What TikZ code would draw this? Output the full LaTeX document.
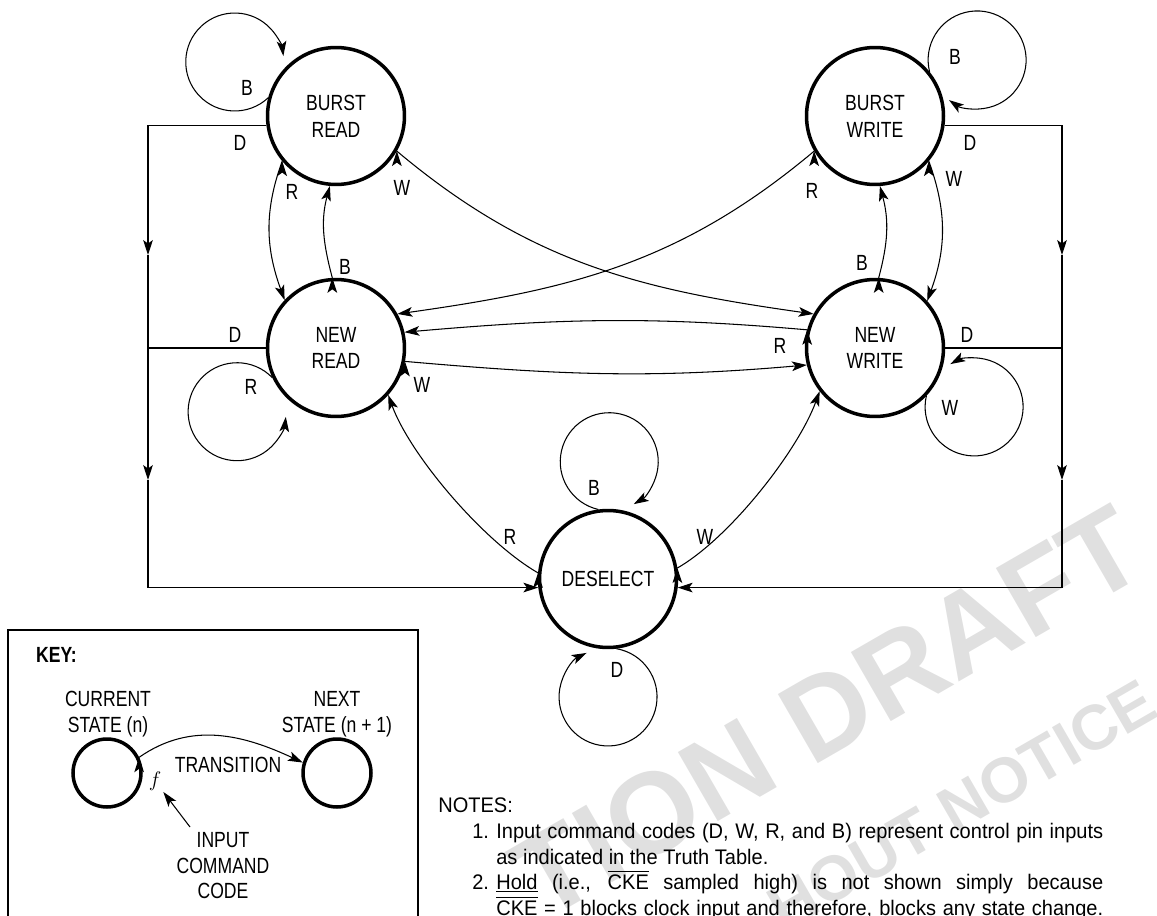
\documentclass[tikz,border=0pt]{standalone}
\usepackage{fontspec}
\setmainfont{Liberation Sans}
\newfontfamily\narrowfont{Liberation Sans}[FakeStretch=0.8]
\newfontfamily\notefont{Liberation Sans}[FakeStretch=0.95]
\usetikzlibrary{arrows.meta}
\begin{document}
\begin{tikzpicture}[x=0.02cm, y=0.02cm,
  state/.style={shape=circle, draw=black, line width=2pt, minimum size=2.74cm, inner sep=0pt, align=center, font=\narrowfont\fontsize{12.5}{15.2}\selectfont},
  keystate/.style={shape=circle, draw=black, line width=2pt, minimum size=1.36cm},
  lbl/.style={font=\narrowfont\fontsize{12.5}{14.5}\selectfont, inner sep=1pt, align=center},
  trans/.style={-{Stealth[length=8.5pt,width=5.5pt,inset=2pt]}, line width=0.6pt, draw=black},
  bus/.style={line width=0.6pt, draw=black},
  note/.style={font=\notefont\fontsize{12}{14.6}\selectfont, anchor=base west, inner sep=0pt},
  wmark/.style={text=black!12, rotate=30, inner sep=0pt}]
\useasboundingbox (0,0) rectangle (1157,-916);
\node[wmark, font=\bfseries\fontsize{66}{66}\selectfont] (wm1) at (828,-712) {TION DRAFT};
\node[wmark, font=\bfseries\fontsize{36}{36}\selectfont] (wm2) at (962,-805) {HOUT NOTICE};
\node[state] (BR) at (336,-116) {BURST\\READ};
\node[state] (BW) at (875,-116) {BURST\\WRITE};
\node[state] (NR) at (336,-348) {NEW\\READ};
\node[state] (NW) at (875,-348) {NEW\\WRITE};
\node[state] (DS) at (608,-579) {DESELECT};
\draw[trans] (BR.165) arc[start angle=-47, end angle=-353, radius=0.98cm];
\draw[trans] (BW.39) arc[start angle=194, end angle=-125, radius=0.98cm];
\draw[trans] (NR.205) arc[start angle=44, end angle=354, radius=0.98cm];
\draw[trans] (NW.-43) arc[start angle=167, end angle=479, radius=0.98cm];
\draw[trans] (DS.98) arc[start angle=-103, end angle=-420, radius=0.98cm];
\draw[trans] (DS.-83) arc[start angle=80, end angle=-244, radius=0.98cm];
\path[trans] (BR.-140) edge[out=250, in=110] (NR.137);
\path[trans] (NR.93) edge[out=105, in=255] (BR.-95);
\path[trans] (BW.-40) edge[out=290, in=70] (NW.42);
\path[trans] (NW.87) edge[out=75, in=285] (BW.-86);
\path[trans] (BR.-30) edge[out=-40, in=172] (NW.151);
\path[trans] (BW.-150) edge[out=220, in=8] (NR.29);
\path[trans] (NW.165) edge[out=175, in=5] (NR.13);
\path[trans] (NR.-11) edge[out=-5, in=185] (NW.-166);
\path[trans] (DS.175) edge[out=150, in=290, looseness=0.7] (NR.-42);
\path[trans] (DS.9) edge[out=30, in=250, looseness=0.7] (NW.-142);
\coordinate (LA) at (148,-255);
\coordinate (LC) at (148,-480);
\coordinate (RA) at (1062,-255);
\coordinate (RC) at (1062,-480);
\draw[trans] (BR.188) -| (LA);
\draw[trans] (LA) -- (LC);
\draw[trans] (LC) |- (DS.187);
\draw[bus] (NR.180) -- (NR.180 -| LA);
\draw[trans] (BW.-8) -| (RA);
\draw[trans] (RA) -- (RC);
\draw[trans] (RC) |- (DS.-7);
\draw[bus] (NW.0) -- (NW.0 -| RA);
\node[lbl] (bBR) at (247,-88) {B};
\node[lbl] (dBR) at (240,-143) {D};
\node[lbl] (rBR) at (292,-192) {R};
\node[lbl] (wBR) at (402,-188) {W};
\node[lbl] (bNR) at (345,-267) {B};
\node[lbl] (dNR) at (235,-335) {D};
\node[lbl] (rNR) at (251,-387) {R};
\node[lbl] (wNR) at (422,-385) {W};
\node[lbl] (bBW) at (955,-57) {B};
\node[lbl] (dBW) at (970,-143) {D};
\node[lbl] (rBW) at (812,-191) {R};
\node[lbl] (wBW) at (954,-179) {W};
\node[lbl] (bNW) at (862,-263) {B};
\node[lbl] (dNW) at (967,-335) {D};
\node[lbl] (rNW) at (780,-346) {R};
\node[lbl] (wNW) at (950,-408) {W};
\node[lbl] (bDS) at (594,-488) {B};
\node[lbl] (rDS) at (510,-537) {R};
\node[lbl] (wDS) at (705,-537) {W};
\node[lbl] (dDS) at (617,-670) {D};
\draw[line width=1.2pt] (8,-916) |- (418,-630) -- (418,-916);
\node[lbl, anchor=base west, font=\narrowfont\bfseries\fontsize{12.5}{14.5}\selectfont] (key) at (34,-662) {KEY:};
\node[keystate] (CS) at (107,-773) {};
\node[keystate] (NS) at (337,-773) {};
\node[lbl] (cstxt) at (108,-714) {CURRENT\\STATE (n)};
\node[lbl] (nstxt) at (337,-714) {NEXT\\STATE (n + 1)};
\node[lbl] (trtxt) at (228,-765) {TRANSITION};
\node[inner sep=1pt, font=\fontsize{12}{14}\selectfont] (fsym) at (155,-781) {$f$};
\node[lbl] (incode) at (223,-866) {INPUT\\COMMAND\\CODE};
\coordinate (ftail) at (190,-827);
\path[trans] (CS.26) edge[out=35, in=155] (NS.163);
\draw[trans] (ftail) -- (fsym);
\node[note] (notes) at (438,-812) {NOTES:};
\node[note] (n1) at (472,-838) {1.};
\node[note] (n1a) at (496,-838) {\makebox[12.14cm][s]{Input command codes (D, W, R, and B) represent control pin inputs}};
\node[note] (n1b) at (496,-864) {as indicated in the Truth Table.};
\node[note] (n2) at (472,-889) {2.};
\node[note] (n2a) at (496,-889) {\makebox[12.14cm][s]{\underline{Hold} (i.e., $\overline{\mbox{CKE}}$ sampled high) is not shown simply because}};
\node[note] (n2b) at (496,-915) {\makebox[12.14cm][s]{$\overline{\mbox{CKE}}$ = 1 blocks clock input and therefore, blocks any state change.}};
\end{tikzpicture}
\end{document}
